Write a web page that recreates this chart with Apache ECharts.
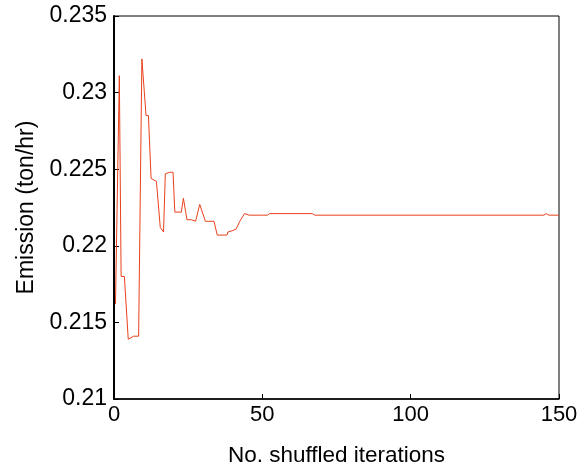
<!DOCTYPE html>
<html>
<head>
<meta charset="utf-8">
<script src="https://cdn.jsdelivr.net/npm/echarts@6/dist/echarts.min.js"></script>
<style>
html,body{margin:0;padding:0;background:#fff;}
#chart{width:587px;height:466px;}
</style>
</head>
<body>
<div id="chart"></div>
<script>
const iterations = [0.5, 1.8, 2.4, 3.5, 4.8, 5.3, 6.6, 8.3, 9.4, 10.8,
  11.6, 12.5, 14.3, 15.6, 16.7, 17.3, 18.8, 19.9, 20.5, 22.7,
  23.4, 24.6, 26.1, 27.5, 28.9, 29.5, 30.8, 33.7, 34.8, 38.1,
  38.4, 40.1, 41.2, 42.4, 44.0, 45.5, 50.0, 50.6, 51.7, 52.5,
  66.8, 67.7, 144.9, 145.7, 146.6, 150];
const emission = [0.2162, 0.2311, 0.2180, 0.2180, 0.2139, 0.2139, 0.2141, 0.2141, 0.2322, 0.2285,
  0.2285, 0.2244, 0.2242, 0.2212, 0.2209, 0.2247, 0.2248, 0.2248, 0.2222, 0.2222,
  0.2231, 0.2217, 0.2217, 0.2216, 0.2227, 0.2226, 0.2216, 0.2216, 0.2207, 0.2207,
  0.2209, 0.2210, 0.2211, 0.2216, 0.2221, 0.2220, 0.2220, 0.2221, 0.2220, 0.2221,
  0.2221, 0.2220, 0.2220, 0.2221, 0.2220, 0.2220];
const xTickLabels = ['0', '50', '100', '150'];
const yTickLabels = ['0.21', '0.215', '0.22', '0.225', '0.23', '0.235'];
const xLabel = 'No. shuffled iterations';
const yLabel = 'Emission (ton/hr)';

const chart = echarts.init(document.getElementById('chart'), null, {renderer: 'canvas'});
const font = "'Liberation Sans', Arial, sans-serif";
chart.setOption({
  animation: false,
  backgroundColor: '#fff',
  grid: {left: 114, right: 28, top: 16, bottom: 67, containLabel: false, outerBoundsMode: 'none',
    show: true, borderColor: '#000', borderWidth: 1, backgroundColor: '#fff'},
  xAxis: {
    type: 'value', min: 0, max: 150, interval: 50,
    name: xLabel, nameLocation: 'middle', nameGap: 45,
    nameTextStyle: {fontFamily: font, fontSize: 22.5, color: '#000'},
    axisLine: {show: true, onZero: false, lineStyle: {color: '#000', width: 1.5}},
    axisTick: {show: true, inside: true, length: 5, lineStyle: {color: '#000'}},
    axisLabel: {margin: 5, fontFamily: font, fontSize: 22, color: '#000',
      formatter: v => xTickLabels[Math.round(v / 50)]},
    splitLine: {show: false}
  },
  yAxis: {
    type: 'value', min: 0.21, max: 0.235, interval: 0.005,
    name: yLabel, nameLocation: 'middle', nameGap: 76, nameRotate: 90,
    nameTextStyle: {fontFamily: font, fontSize: 23, color: '#000'},
    axisLine: {show: true, onZero: false, lineStyle: {color: '#000', width: 2}},
    axisTick: {show: true, inside: true, length: 5, lineStyle: {color: '#000'}},
    axisLabel: {margin: 7, fontFamily: font, fontSize: 23, color: '#000',
      formatter: v => yTickLabels[Math.round((v - 0.21) / 0.005)]},
    splitLine: {show: false}
  },
  series: [{
    type: 'line',
    data: iterations.map((x, i) => [x, emission[i]]),
    showSymbol: false,
    symbol: 'none',
    lineStyle: {color: '#e8411c', width: 1},
    itemStyle: {color: '#e8411c'}
  }]
});
</script>
</body>
</html>
